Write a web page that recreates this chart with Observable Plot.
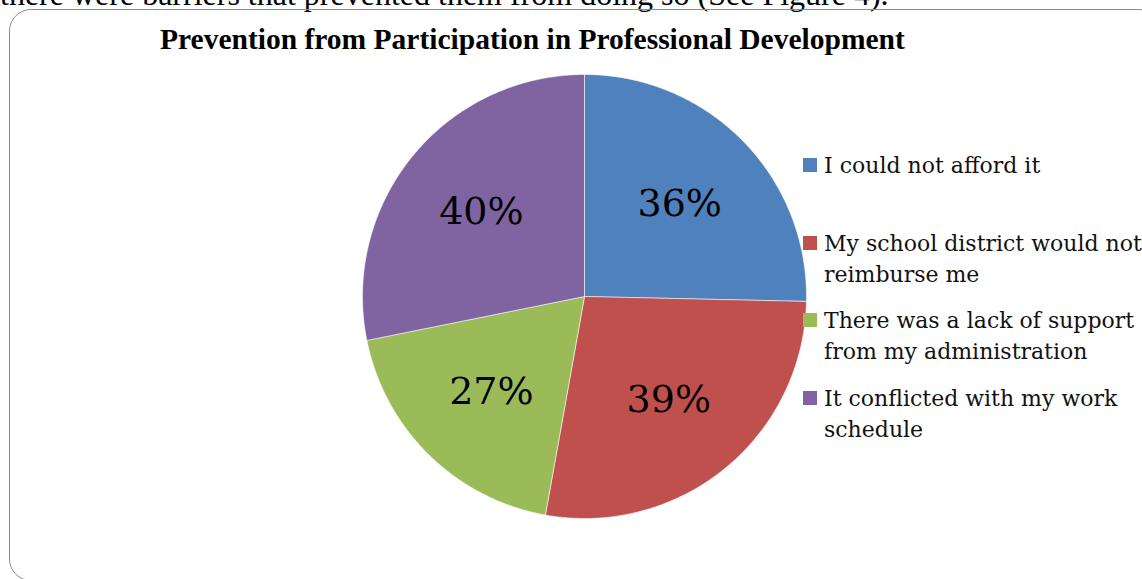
<!DOCTYPE html>
<html>
<head>
<meta charset="utf-8">
<script src="https://cdn.jsdelivr.net/npm/d3@7"></script>
<script src="https://cdn.jsdelivr.net/npm/@observablehq/plot@0.6"></script>
<style>
  html, body { margin: 0; padding: 0; background: #fff; }
  #page { position: relative; width: 1142px; height: 579px; overflow: hidden; background: #fff; }
  #lead { position: absolute; left: 0; top: -22px; font-family: "Liberation Serif", serif; font-size: 32px; line-height: 1; white-space: nowrap; color: #000; }
  #frame { position: absolute; left: 9px; top: 9px; width: 1150px; height: 570px; border: 1.5px solid #8c8c8c; border-radius: 22px; }
  #title { position: absolute; left: 160px; top: 25px; font-family: "Liberation Serif", serif; font-weight: bold; font-size: 29.5px; line-height: 1; white-space: nowrap; color: #000; }
  #chart { position: absolute; left: 354px; top: 66px; }
  #legend { position: absolute; left: 803px; top: 150px; font-family: "DejaVu Serif", serif; font-size: 22px; color: #111; }
  .item { position: relative; height: 77.5px; }
  .sw { position: absolute; left: 0; top: 8px; width: 14px; height: 14px; }
  .lt { position: absolute; left: 21px; top: 0; width: 345px; line-height: 31px; }
</style>
</head>
<body>
<div id="page">
  <div id="lead"></div>
  <div id="frame"></div>
  <div id="title"></div>
  <div id="chart"></div>
  <div id="legend"></div>
</div>
<script>
const leadText = "there were barriers that prevented them from doing so (See Figure 4).";
const titleText = "Prevention from Participation in Professional Development";
const categories = [
  "I could not afford it",
  "My school district would not reimburse me",
  "There was a lack of support from my administration",
  "It conflicted with my work schedule"
];
const values = [36, 39, 27, 40];
const valueLabels = ["36%", "39%", "27%", "40%"];
const colors = ["#4F81BD", "#C0504D", "#9BBB59", "#8064A2"];

document.getElementById("lead").textContent = leadText;
document.getElementById("title").textContent = titleText;

const rows = categories.map((c, i) => ({category: c, value: values[i], label: valueLabels[i]}));
const arcs = d3.pie().sort(null).value(d => d.value)(rows);

const slicePoints = [];
const labelPoints = [];
for (const a of arcs) {
  const c = a.data.category;
  slicePoints.push({category: c, x: 0, y: 0});
  const n = Math.max(2, Math.ceil((a.endAngle - a.startAngle) / (Math.PI / 360)));
  for (let k = 0; k <= n; k++) {
    const t = a.startAngle + (a.endAngle - a.startAngle) * k / n;
    slicePoints.push({category: c, x: Math.sin(t), y: Math.cos(t)});
  }
  slicePoints.push({category: c, x: 0, y: 0});
  const mid = (a.startAngle + a.endAngle) / 2;
  labelPoints.push({category: c, label: a.data.label, x: 0.6 * Math.sin(mid), y: 0.6 * Math.cos(mid)});
}

const plot = Plot.plot({
  width: 460,
  height: 460,
  margin: 8,
  x: {domain: [-1, 1], axis: null},
  y: {domain: [-1, 1], axis: null},
  color: {domain: categories, range: colors},
  style: {background: "transparent", overflow: "visible"},
  marks: [
    Plot.line(slicePoints, {x: "x", y: "y", z: "category", fill: "category", stroke: "#ffffff", strokeOpacity: 0.55, strokeWidth: 1, curve: "linear"}),
    Plot.text(labelPoints, {x: "x", y: "y", text: "label", fontSize: 38, fontFamily: "DejaVu Serif", fill: "#000", textAnchor: "middle", lineAnchor: "middle"})
  ]
});
document.getElementById("chart").appendChild(plot);

const legend = document.getElementById("legend");
categories.forEach((c, i) => {
  const item = document.createElement("div");
  item.className = "item";
  const sw = document.createElement("div");
  sw.className = "sw";
  sw.style.background = colors[i];
  const lt = document.createElement("div");
  lt.className = "lt";
  lt.textContent = c;
  item.appendChild(sw);
  item.appendChild(lt);
  legend.appendChild(item);
});
</script>
</body>
</html>
